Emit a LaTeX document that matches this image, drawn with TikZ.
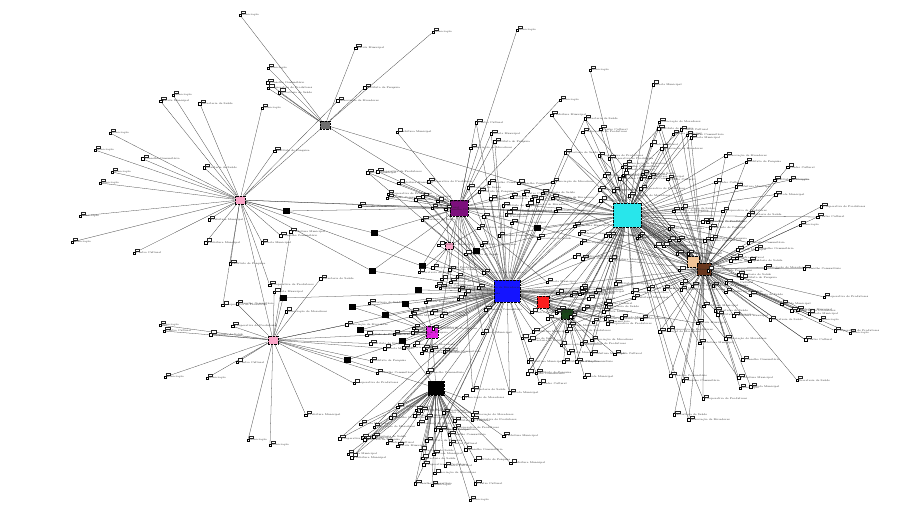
\documentclass[tikz,border=0pt]{standalone}
\usetikzlibrary{calc,backgrounds}
\definecolor{hcyan}{RGB}{40,230,235}
\definecolor{hbrown}{RGB}{105,55,30}
\definecolor{hpeach}{RGB}{240,195,150}
\definecolor{hpurple}{RGB}{125,15,125}
\definecolor{hblue}{RGB}{20,20,255}
\definecolor{hred}{RGB}{250,30,30}
\definecolor{hgreen}{RGB}{25,70,25}
\definecolor{hmag}{RGB}{225,30,225}
\definecolor{hpink}{RGB}{250,165,200}
\definecolor{hgray}{RGB}{110,110,110}
\newcommand\leaftext[1]{\ifcase#1 Associação de Moradores\or Escola Municipal\or Conselho Comunitário\or Secretaria de Saúde\or Cooperativa de Produtores\or Instituto de Pesquisa\or Prefeitura Municipal\or Centro Cultural\fi}
\tikzset{
  edge/.style={draw=black!75, line width=0.27pt},
  leaf/.style={draw=black, fill=white, line width=0.3pt, inner sep=0pt, minimum size=2.6pt},
  sq/.style={draw=black, fill=black, inner sep=0pt, minimum width=6pt, minimum height=5pt},
  hub/.style={draw=black, line width=0.9pt, dash pattern=on 0.8pt off 0.6pt, inner sep=0pt},
  lbl/.style={font=\fontsize{2.6}{3}\selectfont, text=black!85, inner sep=0.5pt},
  badge/.style={draw=black!85, line width=0.25pt, fill=white, inner sep=0pt, minimum width=4.5pt, minimum height=2.2pt}
}
\newcommand\clouds{cy/627/215/66/22/135/-180/180,
  br/704/269/60/20/155/-140/150,
  bl/507/291/42/28/120/-180/180,
  pu/459/208/22/22/100/-180/0,
  bk/436/388/40/25/110/15/165,
  mg/432/332/14/18/70/90/260,
  rd/543/302/10/16/65/-60/120,
  gr/567/314/16/16/80/-20/160,
  pka/240/200/14/35/140/-180/180,
  pkb/273/340/16/25/115/-220/90,
  gy/325/125/5/40/100/-170/-40,
  pkc/449/246/6/18/55/-180/180}
\begin{document}
\begin{tikzpicture}[x=1pt,y=-1pt]
\useasboundingbox (0,0) rectangle (900,522);
\pgfmathsetseed{11}
% leaf positions
\foreach \h/\x/\y/\num/\rmin/\rmax/\amin/\amax in \clouds {
  \foreach \i in {1,...,\num}{
    \pgfmathsetmacro\a{\amin+(\amax-\amin)*rnd}
    \pgfmathsetmacro\r{\rmin+(\rmax-\rmin)*rnd}
    \coordinate (\h-\i) at ($(\x,\y)+(\a:\r)$);
  }
}
% hubs
\node[hub, fill=hpeach, minimum width=12pt, minimum height=11pt] (pe) at (693,262) {};
\node[hub, fill=hbrown, minimum width=14pt, minimum height=12pt] (br) at (704,269) {};
\node[hub, fill=hcyan, minimum width=28pt, minimum height=24pt] (cy) at (627,215) {};
\node[hub, fill=hpurple, minimum width=18pt, minimum height=16pt] (pu) at (459,208) {};
\node[hub, fill=hblue, minimum width=26pt, minimum height=22pt] (bl) at (507,291) {};
\node[hub, fill=hred, minimum width=12pt, minimum height=12pt] (rd) at (543,302) {};
\node[hub, fill=hgreen, minimum width=12pt, minimum height=10pt] (gr) at (567,314) {};
\node[hub, fill=black, minimum width=16pt, minimum height=14pt] (bk) at (436,388) {};
\node[hub, fill=hmag, minimum width=12pt, minimum height=12pt] (mg) at (432,332) {};
\node[hub, fill=hpink, minimum width=10pt, minimum height=8pt] (pka) at (240,200) {};
\node[hub, fill=hpink, minimum width=10pt, minimum height=8pt] (pkb) at (273,340) {};
\node[hub, fill=hpink, minimum width=8pt, minimum height=7pt] (pkc) at (449,246) {};
\node[hub, fill=hgray, minimum width=10pt, minimum height=8pt] (gy) at (325,125) {};
% small black nodes
\foreach \n/\x/\y in {s1/286/211, s2/374/233, s3/372/271, s4/352/307, s5/402/341, s6/422/266, s7/283/298, s8/347/360, s9/405/304, s10/385/315, s11/476/251, s12/537/228, s13/418/290, s14/360/330}
  \node[sq] (\n) at (\x,\y) {};
% hand-placed outer leaves
\foreach \n/\x/\y in {o1/173/95, o2/262/108, o3/110/133, o4/95/150, o5/112/172, o6/100/183, o7/80/216, o8/72/242, o9/240/15, o10/268/68, o11/433/32, o12/517/30, o13/160/325, o14/165/377, o15/207/378, o16/248/440, o17/270/445, o18/432/485, o19/470/500, o20/820/320, o21/850/333, o22/740/388, o23/790/180, o24/800/225, o25/590/70, o26/560/100}
  \node[leaf, label={[lbl]right:{Associação}}, label={[badge]60:{}}] (\n) at (\x,\y) {};
% leaf nodes
\foreach \h/\x/\y/\num/\rmin/\rmax/\amin/\amax in \clouds {
  \foreach \i in {1,...,\num}{
    \pgfmathtruncatemacro\k{mod(\i,8)}
    \node[leaf, label={[lbl]right:{\leaftext{\k}}}, label={[badge]60:{}}] (L\h-\i) at (\h-\i) {};
  }
}
\begin{pgfonlayer}{background}
\foreach \h/\x/\y/\num/\rmin/\rmax/\amin/\amax in \clouds {
  \foreach \i in {1,...,\num} \draw[edge] (\h) -- (L\h-\i);
}
\foreach \a/\b in {pka/o1, pka/o2, pka/o3, pka/o4, pka/o5, pka/o6, pka/o7, pka/o8, gy/o9, gy/o10, gy/o11, pu/o12, pkb/o13, pkb/o14, pkb/o15, pkb/o16, pkb/o17, bk/o18, bk/o19, br/o20, br/o21, br/o22, cy/o23, br/o24, cy/o25, pu/o26, gy/pka, pka/pkb, gy/pu, gy/cy, pka/pu, pka/cy, pka/s1, pkb/mg, pkb/bl, pkb/s7, pkb/s8,
  cy/br, cy/pe, cy/bl, cy/pu, cy/rd, cy/gr, bl/pu, bl/rd, bl/gr, bl/bk, bl/mg, bl/pkc, pu/pkc, mg/bk, rd/gr, gr/br, rd/br, bl/br, pu/br,
  s1/pu, s2/pu, s2/bl, s3/bl, s3/pu, s4/bl, s4/mg, s5/bl, s5/bk, s6/pu, s6/bl, s7/bl, s8/mg, s8/bk, s9/bl, s9/mg, s10/bl, s11/cy, s11/pu, s12/cy, s12/bl, s13/bl, s14/mg, s14/bl, s2/pka, s3/pka, s6/pka}
  \draw[edge] (\a) -- (\b);
\foreach \i in {1,...,30} {\draw[edge] (Lcy-\i) -- (br); \draw[edge] (Lbr-\i) -- (cy);}
\foreach \i in {1,3,...,21} {\draw[edge] (Lbl-\i) -- (pu); \draw[edge] (Lpu-\i) -- (bl); \draw[edge] (Lcy-\i) -- (bl);}
\foreach \i in {2,4,...,16} {\draw[edge] (Lbk-\i) -- (bl); \draw[edge] (Lgr-\i) -- (cy);}
\foreach \i in {1,...,10} {\draw[edge] (Lrd-\i) -- (bl); \draw[edge] (Lmg-\i) -- (bl);}
\end{pgfonlayer}
\end{tikzpicture}
\end{document}
